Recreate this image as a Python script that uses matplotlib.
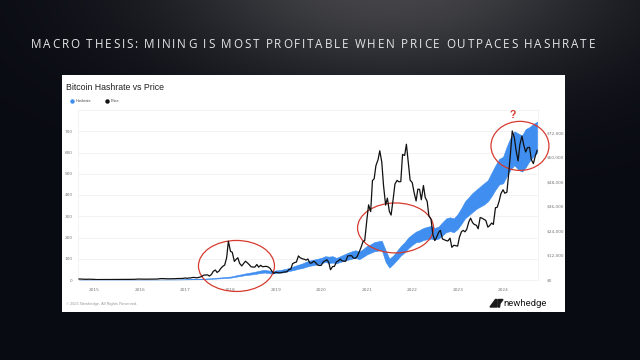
import numpy as np
import pandas as pd
import matplotlib
matplotlib.use("Agg")
import matplotlib.pyplot as plt
import matplotlib.dates as mdates
from matplotlib.patches import Ellipse, Polygon

W, H = 640, 360

slide_title = "MACRO THESIS: MINING IS MOST PROFITABLE WHEN PRICE OUTPACES HASHRATE"
chart_title = "Bitcoin Hashrate vs Price"
series_names = ["Hashrate", "Price"]
copyright_text = "\u00a9 2025 Newhedge. All Rights Reserved."
brand = "newhedge"

hash_ticks = [0, 100, 200, 300, 400, 500, 600, 700]
price_ticks = [0, 12000, 24000, 36000, 48000, 60000, 72000]
year_ticks = list(range(2015, 2025))

# BTC price (USD), twice a month (1st and 15th) from 2014-09-01
price_2014 = [480, 470, 385, 395, 325, 390, 380, 345]
price_2015 = [315, 210, 225, 235, 260, 285, 245, 220, 235, 237, 225, 235,
              260, 285, 280, 260, 228, 230, 237, 255, 315, 330, 360, 455]
price_2016 = [433, 390, 372, 400, 432, 415, 417, 430, 450, 455, 535, 690,
              680, 660, 605, 570, 575, 608, 615, 640, 730, 710, 755, 780]
price_2017 = [1000, 820, 985, 1010, 1220, 1250, 1080, 1180, 1420, 1760, 2400, 2450,
              2500, 1930, 2720, 4200, 4900, 3700, 4400, 5700, 6750, 7300, 10900, 19000]
price_2018 = [14000, 13600, 9100, 10100, 10900, 8200, 6900, 8000, 9200, 8500, 7500, 6500,
              6350, 6300, 7600, 6300, 7200, 6500, 6600, 6700, 6350, 5700, 4200, 3250]
price_2019 = [3850, 3600, 3500, 3600, 3820, 3920, 4100, 5100, 5350, 8000, 8550, 8800,
              11800, 10900, 10400, 10200, 9750, 10300, 8300, 8300, 9200, 8600, 7400, 7100]
price_2020 = [7200, 8800, 9400, 9900, 8600, 5000, 6600, 6650, 8800, 9300, 10200, 9400,
              9200, 9200, 11800, 11900, 11900, 10800, 10600, 11500, 13800, 15900, 18800, 19300]
price_2021 = [29300, 36800, 33500, 48700, 49600, 56000, 58900, 63300, 57800, 46400, 36700, 40100,
              33600, 31800, 39800, 47000, 48800, 48100, 48200, 61500, 61000, 66500, 57200, 48900]
price_2022 = [47700, 43100, 38700, 44500, 44400, 39300, 46300, 40500, 38500, 31300, 29800, 22500,
              19300, 20800, 23300, 24300, 20100, 19700, 19300, 19100, 20500, 16000, 17000, 16800]
price_2023 = [16600, 20900, 23700, 24300, 23600, 24800, 28500, 30300, 28100, 27200, 26800, 25100,
              30600, 30300, 29700, 29200, 25900, 26600, 27900, 27200, 35400, 35600, 38700, 42300]
price_2024 = [44200, 42500, 43000, 51800, 62400, 73000, 69700, 63400, 58300, 66200,
              70500, 66200, 62700, 64800, 65000, 59000, 57000, 60500, 63500]

# Hashrate (EH/s), monthly range of daily values from 2014-09
hash_lo_2014 = [0.2, 0.2, 0.25, 0.25]
hash_hi_2014 = [0.3, 0.35, 0.35, 0.4]
hash_lo_2015 = [0.25, 0.28, 0.3, 0.3, 0.32, 0.33, 0.35, 0.38, 0.4, 0.42, 0.5, 0.6]
hash_hi_2015 = [0.4, 0.4, 0.42, 0.42, 0.44, 0.46, 0.5, 0.52, 0.55, 0.6, 0.7, 0.85]
hash_lo_2016 = [0.7, 0.9, 1.0, 1.1, 1.2, 1.3, 1.3, 1.4, 1.5, 1.6, 1.7, 1.9]
hash_hi_2016 = [1.0, 1.2, 1.3, 1.5, 1.6, 1.7, 1.7, 1.8, 2.0, 2.1, 2.3, 2.6]
hash_lo_2017 = [2.2, 2.5, 2.9, 3.2, 3.6, 4.3, 5.0, 5.6, 6.5, 7.5, 8.5, 10]
hash_hi_2017 = [3.2, 3.6, 4.2, 4.8, 5.4, 6.4, 7.5, 8.4, 9.8, 11.5, 13, 15]
hash_lo_2018 = [11, 14, 17, 20, 23, 25, 27, 30, 33, 35, 33, 30]
hash_hi_2018 = [16, 20, 24, 27, 31, 34, 37, 41, 45, 48, 45, 42]
hash_lo_2019 = [33, 35, 36, 40, 44, 48, 53, 56, 62, 67, 70, 74]
hash_hi_2019 = [45, 47, 50, 54, 60, 66, 72, 78, 86, 92, 96, 100]
hash_lo_2020 = [78, 85, 80, 82, 78, 85, 90, 95, 100, 105, 98, 108]
hash_hi_2020 = [104, 112, 110, 112, 104, 112, 120, 128, 135, 140, 134, 145]
hash_lo_2021 = [120, 128, 135, 138, 140, 85, 58, 75, 95, 115, 130, 150]
hash_hi_2021 = [160, 168, 178, 182, 185, 140, 100, 115, 138, 160, 178, 200]
hash_lo_2022 = [165, 178, 180, 188, 192, 195, 190, 195, 210, 225, 230, 225]
hash_hi_2022 = [215, 228, 235, 245, 250, 255, 245, 252, 272, 290, 295, 290]
hash_lo_2023 = [240, 265, 290, 305, 320, 335, 345, 355, 370, 395, 425, 450]
hash_hi_2023 = [310, 340, 370, 390, 410, 425, 440, 455, 470, 505, 540, 570]
hash_lo_2024 = [455, 490, 520, 540, 520, 510, 530, 560, 580, 600]
hash_hi_2024 = [580, 630, 670, 700, 690, 680, 710, 720, 735, 745]

# red circled regions: (centre date, centre EH/s, width days, height EH/s)
circles = [("2018-02-18", 66, 611, 240),
           ("2021-08-20", 245, 611, 235),
           ("2024-05-16", 631, 466, 231)]
question_at = ("2024-03-21", 776)

BLUE = "#3f8ef0"
RED = "#d63b2f"


def fx(x):
    return x / W


def fy(y):
    return 1 - y / H


price = sum([price_2014, price_2015, price_2016, price_2017, price_2018, price_2019,
             price_2020, price_2021, price_2022, price_2023, price_2024], [])
hash_lo = sum([hash_lo_2014, hash_lo_2015, hash_lo_2016, hash_lo_2017, hash_lo_2018,
               hash_lo_2019, hash_lo_2020, hash_lo_2021, hash_lo_2022, hash_lo_2023,
               hash_lo_2024], [])
hash_hi = sum([hash_hi_2014, hash_hi_2015, hash_hi_2016, hash_hi_2017, hash_hi_2018,
               hash_hi_2019, hash_hi_2020, hash_hi_2021, hash_hi_2022, hash_hi_2023,
               hash_hi_2024], [])
price_dates = pd.date_range("2014-09-01", periods=len(price), freq="SMS")
hash_dates = pd.date_range("2014-09-01", periods=len(hash_lo), freq="MS")

fig = plt.figure(figsize=(6.4, 3.6), dpi=100)

# slide background
bg = fig.add_axes([0, 0, 1, 1])
yy, xx = np.mgrid[0:H, 0:W]
glow = np.exp(-(((xx - 390) / 230.0) ** 2 + ((yy + 20) / 105.0) ** 2))
base = np.array([9, 11, 18]) / 255
light = np.array([70, 70, 74]) / 255
bg.imshow(base + (light - base) * glow[..., None], extent=[0, W, H, 0], aspect="auto")
bg.set_xlim(0, W)
bg.set_ylim(H, 0)
bg.axis("off")

# slide title with letter spacing
title_kw = dict(fontsize=8.4, family="Open Sans", color="#e6e6e8")
renderer = fig.canvas.get_renderer()


def text_width(s):
    t = fig.text(0, 0, s, **title_kw)
    w = t.get_window_extent(renderer).width
    t.remove()
    return w


bar_w = text_width("|")
offsets = [text_width(slide_title[:i] + "|") - bar_w for i in range(len(slide_title))]
full_w = text_width(slide_title)
track = (564 - full_w) / (len(slide_title) - 1)
for i, ch in enumerate(slide_title):
    if ch != " ":
        fig.text(fx(31 + offsets[i] + i * track), fy(48), ch, va="baseline", **title_kw)

# white chart panel
panel = fig.add_axes([fx(62), fy(312), 503 / W, 237 / H])
panel.set_facecolor("white")
panel.set_xticks([])
panel.set_yticks([])
for sp in panel.spines.values():
    sp.set_visible(False)

fig.text(fx(66), fy(87), chart_title, fontsize=6.3, family="Liberation Sans",
         color="#222222", va="center")
fig.add_artist(plt.Line2D([fx(72)], [fy(101)], marker="o", ms=2.2, color=BLUE, mec=BLUE))
fig.text(fx(75.5), fy(101), series_names[0], fontsize=2.8, color="#444444", va="center",
         family="Liberation Sans")
fig.add_artist(plt.Line2D([fx(107)], [fy(101)], marker="o", ms=2.2, color="#111111"))
fig.text(fx(110.5), fy(101), series_names[1], fontsize=2.8, color="#444444", va="center",
         family="Liberation Sans")
fig.text(fx(66), fy(304), copyright_text, fontsize=2.9, color="#999999", va="center",
         family="Liberation Sans")
fig.text(fx(503), fy(303), brand, fontsize=6.8, color="#1a1a1a", va="center",
         family="Roboto")
fig.add_artist(Polygon([(fx(490), fy(307)), (fx(495.5), fy(299.5)), (fx(497), fy(299.5)),
                        (fx(497), fy(307))], closed=True, color="#1a1a1a",
                       transform=fig.transFigure))
fig.add_artist(Polygon([(fx(498), fy(299.5)), (fx(503), fy(299.5)), (fx(500), fy(303.5)),
                        (fx(499.5), fy(307)), (fx(498), fy(307))], closed=True,
                       color="#1a1a1a", transform=fig.transFigure))

# plot area
ax = fig.add_axes([fx(78), fy(280), 460 / W, 170 / H])
ax.set_facecolor("none")
ax.fill_between(hash_dates, hash_lo, hash_hi, color=BLUE, lw=0.4)
ax.set_ylim(0, 800)
ax.set_xlim(pd.Timestamp("2014-08-24"), pd.Timestamp("2024-10-08"))
ax.set_yticks(hash_ticks)
ax.set_yticklabels([str(v) for v in hash_ticks])
ax.set_xticks([pd.Timestamp(f"{y}-01-01") for y in year_ticks])
ax.set_xticklabels([str(y) for y in year_ticks])
ax.grid(axis="y", color="#efefef", lw=0.5)
ax.set_axisbelow(True)
ax.tick_params(length=0, labelsize=3.1, labelcolor="#777777")
ax.tick_params(axis="x", pad=6)
ax.tick_params(axis="y", pad=4)
for sp in ax.spines.values():
    sp.set_color("#eeeeee")
    sp.set_linewidth(0.5)

ax2 = ax.twinx()
ax2.plot(price_dates, price, color="#111111", lw=0.9)
ax2.set_ylim(0, 83265)
ax2.set_yticks(price_ticks)
ax2.set_yticklabels([f"${v:,}" for v in price_ticks])
ax2.tick_params(length=0, labelsize=3.1, labelcolor="#777777", pad=6)
for sp in ax2.spines.values():
    sp.set_visible(False)

for date, val, wd, ht in circles:
    ax2.add_patch(Ellipse((mdates.date2num(pd.Timestamp(date)), val), wd, ht,
                          transform=ax.transData, fill=False, ec=RED, lw=0.9,
                          clip_on=False))
ax2.text(mdates.date2num(pd.Timestamp(question_at[0])), question_at[1], "?",
         transform=ax.transData, color=RED, fontsize=7.5, fontweight="bold",
         ha="center", va="center", family="Liberation Sans")

fig.savefig("out.png", dpi=100)
